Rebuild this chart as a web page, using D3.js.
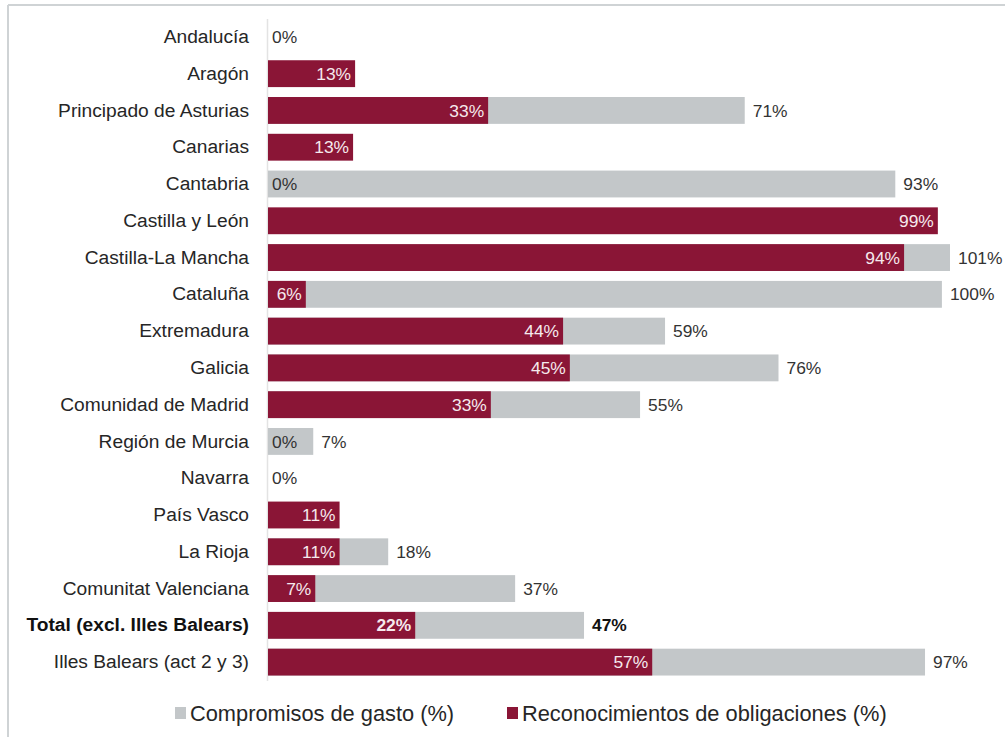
<!DOCTYPE html>
<html><head><meta charset="utf-8">
<script src="https://cdn.jsdelivr.net/npm/d3@7"></script>
<style>body{margin:0;background:#fff;}svg{display:block;font-family:"Liberation Sans",Arial,sans-serif;}</style>
</head><body>
<svg id="c" width="1005" height="737"></svg>
<script>
const categories = ["Andalucía","Aragón","Principado de Asturias","Canarias","Cantabria","Castilla y León","Castilla-La Mancha","Cataluña","Extremadura","Galicia","Comunidad de Madrid","Región de Murcia","Navarra","País Vasco","La Rioja","Comunitat Valenciana","Total (excl. Illes Balears)","Illes Balears (act 2 y 3)"];
const compromisos = [null,null,70.6,null,92.9,null,101,99.8,58.8,75.6,55.1,6.7,null,null,17.8,36.6,46.8,97.3];
const reconocimientos = [0,12.9,32.6,12.6,0,99.2,94.2,5.6,43.7,44.7,33,0,0,10.6,10.6,7,21.8,56.9];
const seriesNames = ["Compromisos de gasto (%)","Reconocimientos de obligaciones (%)"];
const totalCategory = "Total (excl. Illes Balears)";

const colGray = "#c3c7c9", colRed = "#8a1536", txt = "#333333";
const svg = d3.select("#c");
const x0 = 268, x1 = 950;
const x = d3.scaleLinear().domain([0,101]).range([x0,x1]);
const y = d3.scaleBand().domain(categories).range([18.5,680.5]).paddingInner(0.27).paddingOuter(0.135);

// frame
svg.append("line").attr("x1",8).attr("x2",1005).attr("y1",5).attr("y2",5).attr("stroke","#cfd3d5").attr("stroke-width",2);
svg.append("line").attr("x1",8).attr("x2",8).attr("y1",5).attr("y2",737).attr("stroke","#cfd3d5").attr("stroke-width",2);

// axis
const yAxis = d3.axisLeft(y).tickSize(0).tickPadding(18);
const ag = svg.append("g").attr("transform",`translate(${x0-1},0)`).call(yAxis);
ag.select(".domain").attr("stroke","#e3e3e3").attr("stroke-width",1.5);
ag.selectAll("text").attr("font-size",19.2)
  .attr("font-family","'Liberation Sans',Arial,sans-serif")
  .attr("font-weight",d=>d===totalCategory?"bold":"normal")
  .attr("fill",d=>d===totalCategory?"#111":"#262626");

const rows = categories.map((c,i)=>({c,g:compromisos[i],r:reconocimientos[i]}));
// gray bars
svg.selectAll(".g").data(rows.filter(d=>d.g!=null)).join("rect")
  .attr("x",x(0)).attr("y",d=>y(d.c)).attr("height",y.bandwidth())
  .attr("width",d=>x(d.g)-x(0)).attr("fill",colGray);
// red bars
svg.selectAll(".r").data(rows.filter(d=>d.r>0)).join("rect")
  .attr("x",x(0)).attr("y",d=>y(d.c)).attr("height",y.bandwidth())
  .attr("width",d=>x(d.r)-x(0)).attr("fill",colRed);

const fmt = v=>d3.format(".0f")(v)+"%";
// gray labels
svg.selectAll(".gl").data(rows.filter(d=>d.g!=null)).join("text")
  .attr("x",d=>x(d.g)+8).attr("y",d=>y(d.c)+y.bandwidth()/2).attr("dy","0.35em")
  .attr("font-size",17.4)
  .attr("font-weight",d=>d.c===totalCategory?"bold":"normal")
  .attr("fill",d=>d.c===totalCategory?"#111":txt)
  .text(d=>fmt(d.g));
// red labels
svg.selectAll(".rl").data(rows).join("text")
  .attr("x",d=>d.r>0?x(d.r)-4:x(0)+4).attr("y",d=>y(d.c)+y.bandwidth()/2).attr("dy","0.35em")
  .attr("text-anchor",d=>d.r>0?"end":"start")
  .attr("font-size",17.4)
  .attr("fill",d=>d.r>0?"#f6e9ed":txt)
  .attr("font-weight",d=>d.c===totalCategory?"bold":"normal")
  .text(d=>fmt(d.r));

// legend
const lg = svg.append("g");
const items = [{n:seriesNames[0],c:colGray,x:175},{n:seriesNames[1],c:colRed,x:507}];
items.forEach(it=>{
  lg.append("rect").attr("x",it.x).attr("y",707).attr("width",11).attr("height",12).attr("fill",it.c);
  lg.append("text").attr("x",it.x+15).attr("y",713).attr("dy","0.35em").attr("font-size",21.8).attr("fill","#262626").text(it.n);
});
</script>
</body></html>
